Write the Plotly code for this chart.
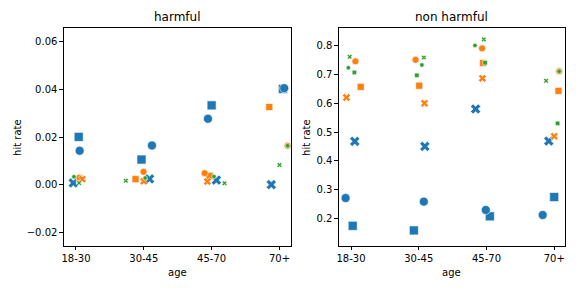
import plotly.graph_objects as go

age_labels = ["18-30", "30-45", "45-70", "70+"]
age_pos = [0, 1, 2, 3]

# harmful panel: (x position with jitter, hit rate)
h_blue_square_x = [0.04, 0.966, 2.0, 3.05]
h_blue_square_y = [0.0201, 0.0106, 0.0333, 0.0402]
h_blue_circle_x = [0.054, 1.12, 1.946, 3.07]
h_blue_circle_y = [0.0143, 0.0165, 0.0277, 0.0405]
h_blue_x_x = [-0.04, 1.084, 2.07, 2.88]
h_blue_x_y = [0.0008, 0.0025, 0.0020, 0.0001]
h_orange_square_x = [0.055, 0.878, 1.97, 2.85]
h_orange_square_y = [0.0026, 0.0024, 0.0038, 0.0326]
h_orange_circle_x = [0.05, 0.996, 1.897, 3.12]
h_orange_circle_y = [0.0030, 0.0055, 0.0049, 0.0164]
h_orange_x_x = [0.094, 1.0, 1.937]
h_orange_x_y = [0.0024, 0.0015, 0.0014]
h_green_circle_x = [-0.03, 1.02, 2.035, 3.12]
h_green_circle_y = [0.0034, 0.0029, 0.0035, 0.0164]
h_green_x_x = [0.045, 0.735, 2.19, 3.0]
h_green_x_y = [0.0008, 0.0017, 0.0007, 0.0083]

# non harmful panel
n_blue_square_x = [0.025, 0.928, 2.05, 3.0]
n_blue_square_y = [0.174, 0.158, 0.207, 0.274]
n_blue_circle_x = [-0.08, 1.075, 1.99, 2.83]
n_blue_circle_y = [0.2705, 0.258, 0.229, 0.2115]
n_blue_x_x = [0.055, 1.09, 1.84, 2.92]
n_blue_x_y = [0.4675, 0.450, 0.580, 0.4686]
n_orange_square_x = [0.143, 1.007, 1.95, 3.063]
n_orange_square_y = [0.657, 0.661, 0.740, 0.643]
n_orange_circle_x = [0.065, 0.953, 1.935, 3.074]
n_orange_circle_y = [0.7455, 0.751, 0.7907, 0.7108]
n_orange_x_x = [-0.068, 1.085, 1.94, 3.0]
n_orange_x_y = [0.620, 0.600, 0.6865, 0.485]
n_green_square_x = [0.05, 0.972, 1.98, 3.05]
n_green_square_y = [0.707, 0.697, 0.7407, 0.530]
n_green_circle_x = [-0.04, 1.046, 1.83, 3.074]
n_green_circle_y = [0.7233, 0.733, 0.801, 0.7108]
n_green_x_x = [-0.02, 1.075, 1.96, 2.88]
n_green_x_y = [0.7615, 0.759, 0.822, 0.678]

h_yticks = [-0.02, 0.0, 0.02, 0.04, 0.06]
h_yticktext = ["\u22120.02", "0.00", "0.02", "0.04", "0.06"]
n_yticks = [0.2, 0.3, 0.4, 0.5, 0.6, 0.7, 0.8]
n_yticktext = ["0.2", "0.3", "0.4", "0.5", "0.6", "0.7", "0.8"]

BLUE, ORANGE, GREEN = "#1f77b4", "#ff7f0e", "#2ca02c"
sizes = {BLUE: 9, ORANGE: 7, GREEN: 4.5}

fig = go.Figure()

def add(x, y, color, symbol, axis):
    sz = sizes[color]
    fig.add_trace(go.Scatter(
        x=x, y=y, mode="markers", xaxis="x" + axis, yaxis="y" + axis,
        showlegend=False, cliponaxis=False,
        marker=dict(color=color, symbol=symbol, size=sz,
                    line=dict(color="white", width=0.6))))

h = [
    (h_blue_square_x, h_blue_square_y, BLUE, "square"),
    (h_blue_circle_x, h_blue_circle_y, BLUE, "circle"),
    (h_blue_x_x, h_blue_x_y, BLUE, "x"),
    (h_orange_square_x, h_orange_square_y, ORANGE, "square"),
    (h_orange_circle_x, h_orange_circle_y, ORANGE, "circle"),
    (h_orange_x_x, h_orange_x_y, ORANGE, "x"),
    (h_green_circle_x, h_green_circle_y, GREEN, "circle"),
    (h_green_x_x, h_green_x_y, GREEN, "x"),
]
n = [
    (n_blue_square_x, n_blue_square_y, BLUE, "square"),
    (n_blue_circle_x, n_blue_circle_y, BLUE, "circle"),
    (n_blue_x_x, n_blue_x_y, BLUE, "x"),
    (n_orange_square_x, n_orange_square_y, ORANGE, "square"),
    (n_orange_circle_x, n_orange_circle_y, ORANGE, "circle"),
    (n_orange_x_x, n_orange_x_y, ORANGE, "x"),
    (n_green_square_x, n_green_square_y, GREEN, "square"),
    (n_green_circle_x, n_green_circle_y, GREEN, "circle"),
    (n_green_x_x, n_green_x_y, GREEN, "x"),
]
for x, y, c, s in h:
    add(x, y, c, s, "")
for x, y, c, s in n:
    add(x, y, c, s, "2")

ax_common = dict(showgrid=False, zeroline=False, showline=True, mirror=True,
                 linecolor="black", linewidth=0.8, ticks="outside", ticklen=3.5,
                 tickwidth=0.8, tickcolor="black",
                 tickfont=dict(family="DejaVu Sans", size=10, color="black"))
ytop, ybot = 1 - 28 / 288, 1 - 246 / 288

fig.update_layout(
    width=576, height=288, margin=dict(l=0, r=0, t=0, b=0),
    paper_bgcolor="white", plot_bgcolor="white",
    font=dict(family="DejaVu Sans", size=10, color="black"),
    xaxis=dict(domain=[62 / 576, 290 / 576], range=[-0.18, 3.17],
               tickvals=age_pos, ticktext=age_labels, **ax_common),
    yaxis=dict(domain=[ybot, ytop], range=[-0.0256, 0.0657],
               tickvals=h_yticks, ticktext=h_yticktext, **ax_common),
    xaxis2=dict(domain=[338 / 576, 565 / 576], range=[-0.18, 3.16], anchor="y2",
                tickvals=age_pos, ticktext=age_labels, **ax_common),
    yaxis2=dict(domain=[ybot, ytop], range=[0.1038, 0.8615], anchor="x2",
                tickvals=n_yticks, ticktext=n_yticktext, **ax_common),
)

def ann(text, x, y, size=10, angle=0):
    fig.add_annotation(text=text, x=x / 576, y=1 - y / 288, xref="paper", yref="paper",
                       showarrow=False, textangle=angle,
                       font=dict(family="DejaVu Sans", size=size, color="black"),
                       xanchor="center", yanchor="middle")

ann("harmful", 176, 17, 12)
ann("non harmful", 451.5, 17, 12)
ann("age", 176, 272)
ann("age", 451.5, 272)
ann("hit rate", 15, 137, 10, -90)
ann("hit rate", 305, 137, 10, -90)

fig.write_html("out.html", config={"displayModeBar": False},
               post_script="document.body.style.margin='0';document.body.style.overflow='hidden';")
